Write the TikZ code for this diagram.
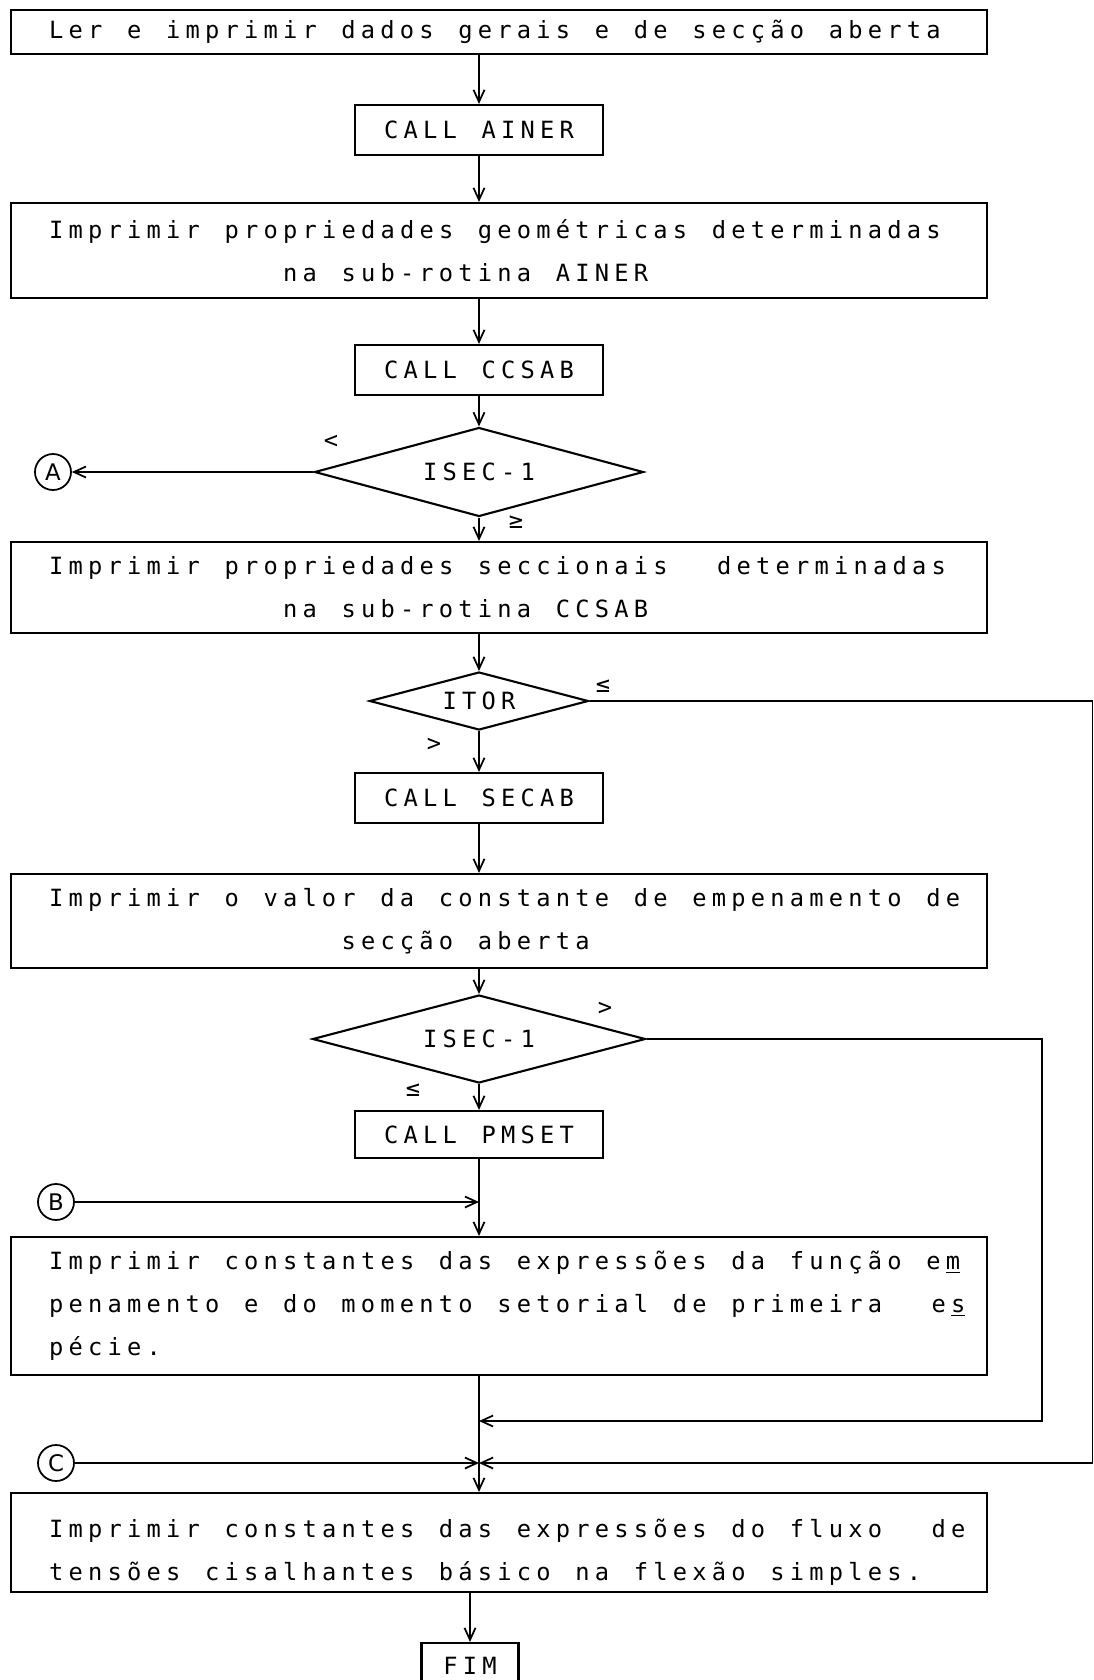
\documentclass[tikz,border=0pt]{standalone}
\usepackage{fontspec}
\setmonofont{DejaVu Sans Mono}[LetterSpace=22]
\newfontfamily\connfont{DejaVu Sans}
\usetikzlibrary{shapes.geometric,arrows.meta}
\newcommand\flowtxt{\ttfamily\fontsize{13.5}{24.5}\selectfont\spaceskip=0.494cm\xspaceskip=0.494cm\relax}
\newcommand\cont[2]{#1#2\llap{\underline{\phantom{#2}}}}

\begin{document}
\begin{tikzpicture}[x=0.02cm,y=-0.02cm,
  proc/.style={draw,line width=1.2pt,font=\flowtxt,align=left,text width=19.32cm,inner xsep=0.1cm,execute at begin node={\leftskip=0.66cm\spaceskip=0.494cm\xspaceskip=0.494cm\relax}},
  call/.style={draw,line width=1.2pt,font=\flowtxt,minimum width=4.96cm,minimum height=1cm},
  test/.style={draw,diamond,aspect=3.7,line width=1.2pt,font=\flowtxt,inner sep=0pt},
  conn/.style={draw,circle,line width=1pt,font=\connfont\fontsize{13}{13}\selectfont,minimum size=0.72cm,inner sep=0pt},
  flow/.style={line width=1pt,-{Straight Barb[length=0.24cm,width=0.22cm]}},
  sign/.style={font=\flowtxt,inner sep=0pt}]
\useasboundingbox (0,0) rectangle (1093,1680);
\node[proc,minimum height=0.88cm] (ler) at (499,32) {\mbox{Ler e imprimir dados gerais e de secção aberta}};
\node[call] (ainer) at (479,130) {CALL AINER};
\node[proc,minimum height=1.9cm] (geo) at (499,250.5) {\mbox{Imprimir propriedades geométricas determinadas}\\\hspace*{4.68cm}\mbox{na sub-rotina AINER}};
\node[call] (ccsab) at (479,370) {CALL CCSAB};
\node[test,minimum width=6.58cm,minimum height=1.78cm] (isec) at (479,472) {ISEC-1};
\node[conn] (A) at (53,472) {A};
\node[proc,minimum height=1.82cm] (secc) at (499,587.5) {\mbox{Imprimir propriedades seccionais\ \ determinadas}\\\hspace*{4.68cm}\mbox{na sub-rotina CCSAB}};
\node[test,minimum width=4.38cm,minimum height=1.16cm] (itor) at (479,701) {ITOR};
\node[call] (secab) at (479,798) {CALL SECAB};
\node[proc,minimum height=1.88cm] (emp) at (499,921) {\mbox{Imprimir o valor da constante de empenamento de}\\\hspace*{5.85cm}\mbox{secção aberta}};
\node[test,minimum width=6.66cm,minimum height=1.76cm] (isecb) at (479,1039) {ISEC-1};
\node[call,minimum height=0.94cm] (pmset) at (479,1134.5) {CALL PMSET};
\node[conn] (B) at (56,1202) {B};
\node[proc,minimum height=2.76cm] (func) at (499,1306) {\mbox{Imprimir constantes das expressões da função \cont{e}{m}}\\\mbox{penamento e do momento setorial de primeira\ \ \cont{e}{s}}\\\mbox{pécie.}};
\node[conn] (C) at (56,1463) {C};
\node[proc,minimum height=1.98cm] (fluxo) at (499,1542.5) {\rule{0pt}{0.76cm}\mbox{Imprimir constantes das expressões do fluxo\ \ de}\\\mbox{tensões cisalhantes básico na flexão simples.}};
\node[call,minimum width=1.94cm,minimum height=0.92cm] (fim) at (470,1666) {FIM};
% junctions on the main line
\coordinate (jB) at (479,1202);
\coordinate (jR) at (479,1421);
\coordinate (jC) at (479,1463);
\coordinate (loop) at (1042,1421);
\coordinate (rim) at (1092.5,1463);
\path[draw,flow] (ler.south -| ainer) -- (ainer);
\path[draw,flow] (ainer) -- (geo.north -| ainer);
\path[draw,flow] (geo.south -| ccsab) -- (ccsab);
\path[draw,flow] (ccsab) -- (isec);
\path[draw,flow] (isec) -- (A);
\path[draw,flow] (isec) -- (secc.north -| isec);
\path[draw,flow] (secc.south -| itor) -- (itor);
\path[draw,flow] (itor) -- (secab);
\path[draw,flow] (itor.east) -| (rim) -- (jC);
\path[draw,flow] (secab) -- (emp.north -| secab);
\path[draw,flow] (emp.south -| isecb) -- (isecb);
\path[draw,flow] (isecb) -- (pmset);
\path[draw,flow] (isecb.east) -| (loop) -- (jR);
\path[draw,flow] (pmset) -- (func.north -| pmset);
\path[draw,flow] (B) -- (jB);
\path[draw,flow] (func.south -| jR) -- (fluxo.north -| jR);
\path[draw,flow] (C) -- (jC);
\path[draw,flow] (fluxo.south -| fim) -- (fim);
% conditions
\node[sign] (lt) at (331,442) {<};
\node[sign] (ge) at (516,522) {≥};
\node[sign] (le) at (603,686) {≤};
\node[sign] (gt) at (434,745) {>};
\node[sign] (gtb) at (605,1009) {>};
\node[sign] (leb) at (413,1090) {≤};
\end{tikzpicture}
\end{document}
